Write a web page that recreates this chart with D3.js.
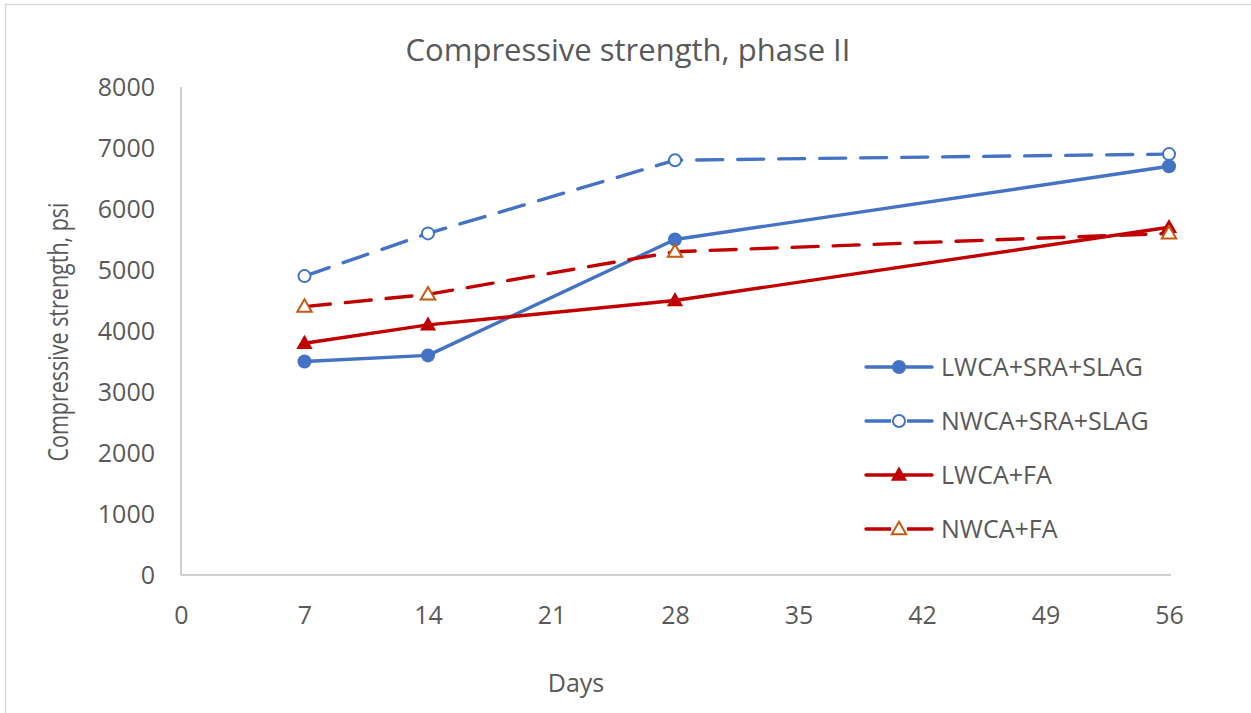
<!DOCTYPE html>
<html><head><meta charset="utf-8">
<script src="https://cdn.jsdelivr.net/npm/d3@7"></script>
<style>body{margin:0;background:#fff}svg{display:block}text{font-family:"Open Sans",sans-serif;fill:#595959}</style>
</head><body><svg id="c" width="1251" height="713"></svg>
<script>
const days = [7, 14, 28, 56];
const xTicks = [0, 7, 14, 21, 28, 35, 42, 49, 56];
const yTicks = [0, 1000, 2000, 3000, 4000, 5000, 6000, 7000, 8000];
const seriesNames = ["LWCA+SRA+SLAG", "NWCA+SRA+SLAG", "LWCA+FA", "NWCA+FA"];
const lwcaSraSlag = [3500, 3600, 5500, 6700];
const nwcaSraSlag = [4900, 5600, 6800, 6900];
const lwcaFa = [3800, 4100, 4500, 5700];
const nwcaFa = [4400, 4600, 5300, 5600];

const styles = [
  {color:"#4472C4", dash:null, marker:"circle", fill:"#4472C4", mstroke:"#4472C4"},
  {color:"#4472C4", dash:"26 15", marker:"circle", fill:"#fff", mstroke:"#4472C4"},
  {color:"#C00000", dash:null, marker:"triangle", fill:"#C00000", mstroke:"#C00000"},
  {color:"#C00000", dash:"26 15", marker:"triangle", fill:"#fff", mstroke:"#C55A11"}
];
const allValues = [lwcaSraSlag, nwcaSraSlag, lwcaFa, nwcaFa];

const svg = d3.select("#c");
svg.append("rect").attr("x",5.5).attr("y",4.5).attr("width",1260).attr("height",720)
  .attr("fill","none").attr("stroke","#d9d9d9").attr("stroke-width",1.5);

const x = d3.scaleLinear().domain([0,56]).range([181,1169]);
const y = d3.scaleLinear().domain([0,8000]).range([575,87]);

svg.append("text").attr("x",628).attr("y",61).attr("text-anchor","middle")
  .attr("font-size",31).text("Compressive strength, phase II");

// axes
const xAxis = svg.append("g").attr("transform","translate(0,575)")
  .call(d3.axisBottom(x).tickValues(xTicks).tickSize(0).tickPadding(31).tickFormat(d3.format("d")));
xAxis.select(".domain").attr("stroke","#bfbfbf").attr("stroke-width",1.5).attr("d","M181,0H1171");
xAxis.selectAll("text").attr("font-size",25).attr("fill","#595959").style("font-family","'Open Sans',sans-serif");

const yAxis = svg.append("g").attr("transform","translate(181,0)")
  .call(d3.axisLeft(y).tickValues(yTicks).tickSize(0).tickPadding(26).tickFormat(d3.format("d")));
yAxis.select(".domain").attr("stroke","#bfbfbf").attr("stroke-width",1.5).attr("d","M0,87V575");
yAxis.selectAll("text").attr("font-size",25).attr("fill","#595959").style("font-family","'Open Sans',sans-serif");

svg.append("text").attr("x",576).attr("y",692).attr("text-anchor","middle").attr("font-size",25).text("Days");
svg.append("text").attr("transform","translate(68,332) rotate(-90) scale(1,1.3)").attr("text-anchor","middle")
  .attr("font-size",21.5).text("Compressive strength, psi");

const line = d3.line().x(d=>x(d[0])).y(d=>y(d[1]));
const tri = d3.symbol().type(d3.symbolTriangle);

function drawMarker(g, st, cx, cy){
  const filled = st.fill !== "#fff";
  if(st.marker==="circle"){
    g.append("circle").attr("cx",cx).attr("cy",cy).attr("r",filled?7:6)
      .attr("fill",st.fill).attr("stroke",st.mstroke).attr("stroke-width",filled?0:2);
  } else {
    g.append("path").attr("d",tri.size(filled?115:90)())
      .attr("transform",`translate(${cx},${cy+1})`)
      .attr("fill",st.fill).attr("stroke",st.mstroke).attr("stroke-width",filled?0:2);
  }
}

allValues.forEach((vals,i)=>{
  const st = styles[i];
  const pts = days.map((d,j)=>[d, vals[j]]);
  const g = svg.append("g");
  g.append("path").attr("d",line(pts)).attr("fill","none").attr("stroke",st.color)
    .attr("stroke-width",3.4).attr("stroke-linecap","round").attr("stroke-linejoin","round")
    .attr("stroke-dasharray",st.dash);
  pts.forEach(p=>drawMarker(g, st, x(p[0]), y(p[1])));
});

// legend
const legY = [367, 421, 475, 529];
seriesNames.forEach((name,i)=>{
  const st = styles[i];
  const g = svg.append("g");
  g.append("line").attr("x1",866).attr("x2",932).attr("y1",legY[i]).attr("y2",legY[i])
    .attr("stroke",st.color).attr("stroke-width",3.4).attr("stroke-linecap","round");
  if(st.fill==="#fff"){
    g.append("rect").attr("x",891).attr("y",legY[i]-5).attr("width",16).attr("height",10).attr("fill","#fff");
  }
  drawMarker(g, st, 899, legY[i]);
  g.append("text").attr("x",941).attr("y",legY[i]+9).attr("font-size",25).text(name);
});
</script></body></html>
